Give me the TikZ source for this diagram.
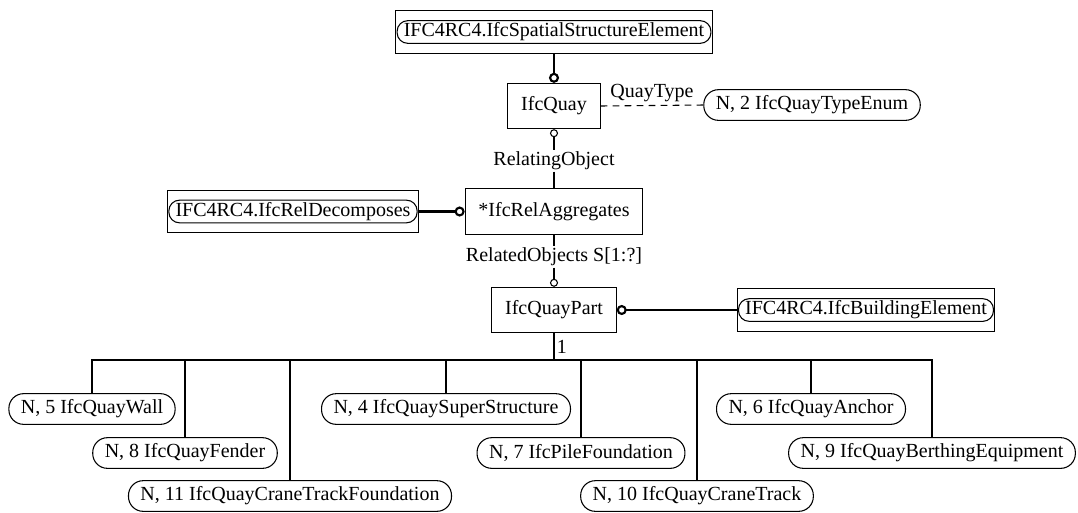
\documentclass[tikz,border=0pt]{standalone}
\usepackage{fontspec}
\setmainfont{Liberation Serif}
\usepackage{tikz}
\usetikzlibrary{shapes.misc}
\usetikzlibrary{positioning}
\usetikzlibrary{fit}
\usetikzlibrary{arrows.meta}

\tikzset{
	every node/.style={font=\fontsize{15pt}{17pt}\selectfont},
	entity/.style={draw,line width=0.8pt,rectangle,minimum height=34pt,inner xsep=10pt},
	typebox/.style={draw,line width=0.8pt,rounded corners=11pt,minimum height=23pt,inner xsep=9pt,inner ysep=2pt},
	refbox/.style={draw,line width=0.8pt,rounded corners=8pt,minimum height=17pt,inner xsep=5pt,inner ysep=1pt},
	frame/.style={draw,line width=0.8pt,inner xsep=0.6pt,inner ysep=7pt},
	thickline/.style={line width=2.2pt},
	thinline/.style={line width=0.8pt},
	lbl/.style={inner sep=1pt},
	bigring/.tip={Circle[open,length=7.5pt,width=7.5pt,line width=1.6pt]},
	ring/.tip={Circle[open,length=6pt,width=6pt,line width=0.8pt]},
}

\begin{document}
\begin{tikzpicture}[x=0.75pt,y=-0.75pt]
	\useasboundingbox (0,0) rectangle (1078,512);
	%supertypes%
	\node[refbox] (sse) at (554,32) {IFC4RC4.IfcSpatialStructureElement};
	\node[frame,fit=(sse)] (sseframe) {};
	\node[entity] (quay) at (554,106) {IfcQuay};
	\node[typebox] (quayenum) at (812,105) {N, 2 IfcQuayTypeEnum};
	\node[lbl] (relating) at (554,161) {RelatingObject};
	\node[entity] (aggr) at (554,211.5) {*IfcRelAggregates};
	\node[refbox] (decomp) at (293,211.5) {IFC4RC4.IfcRelDecomposes};
	\node[frame,fit=(decomp)] (decompframe) {};
	\node[lbl] (related) at (554,257) {RelatedObjects S[1:?]};
	\node[entity] (part) at (554,310) {IfcQuayPart};
	\node[refbox] (building) at (866,310) {IFC4RC4.IfcBuildingElement};
	\node[frame,fit=(building)] (buildingframe) {};
	%subtypes%
	\node[typebox] (wall) at (92,409) {N, 5 IfcQuayWall};
	\node[typebox] (fender) at (185,453) {N, 8 IfcQuayFender};
	\node[typebox] (ctfound) at (290,496) {N, 11 IfcQuayCraneTrackFoundation};
	\node[typebox] (super) at (446,409) {N, 4 IfcQuaySuperStructure};
	\node[typebox] (pile) at (581,453) {N, 7 IfcPileFoundation};
	\node[typebox] (crane) at (697,496) {N, 10 IfcQuayCraneTrack};
	\node[typebox] (anchor) at (811,409) {N, 6 IfcQuayAnchor};
	\node[typebox] (berth) at (932,453) {N, 9 IfcQuayBerthingEquipment};
	\coordinate (bus) at (554,360);

	\draw[thickline,-bigring] (sseframe.south) -- (quay.north);
	\draw[thinline,dash pattern=on 5pt off 4pt] (quay.east) -- (quayenum.west) node[midway,above,lbl,yshift=1pt] (quaytype) {QuayType};
	\draw[thinline,ring-] (quay.south) -- (relating.north);
	\draw[thinline] (relating.south) -- (aggr.north);
	\draw[thickline,-bigring] (decompframe.east) -- (aggr.west);
	\draw[thinline] (aggr.south) -- (related.north);
	\draw[thinline,-ring] (related.south) -- (part.north);
	\draw[thickline,-bigring] (buildingframe.west) -- (part.east);

	\draw[thickline] (part.south) -- (bus) node[pos=0.5,right,lbl] (one) {1};
	\draw[thickline,line join=miter] (wall.north) -- (wall.north |- bus) -- (berth.north |- bus) -- (berth.north);
	\foreach \n in {fender,ctfound,super,pile,crane,anchor}
		\draw[thickline] (\n.north |- bus) -- (\n.north);
\end{tikzpicture}
\end{document}
